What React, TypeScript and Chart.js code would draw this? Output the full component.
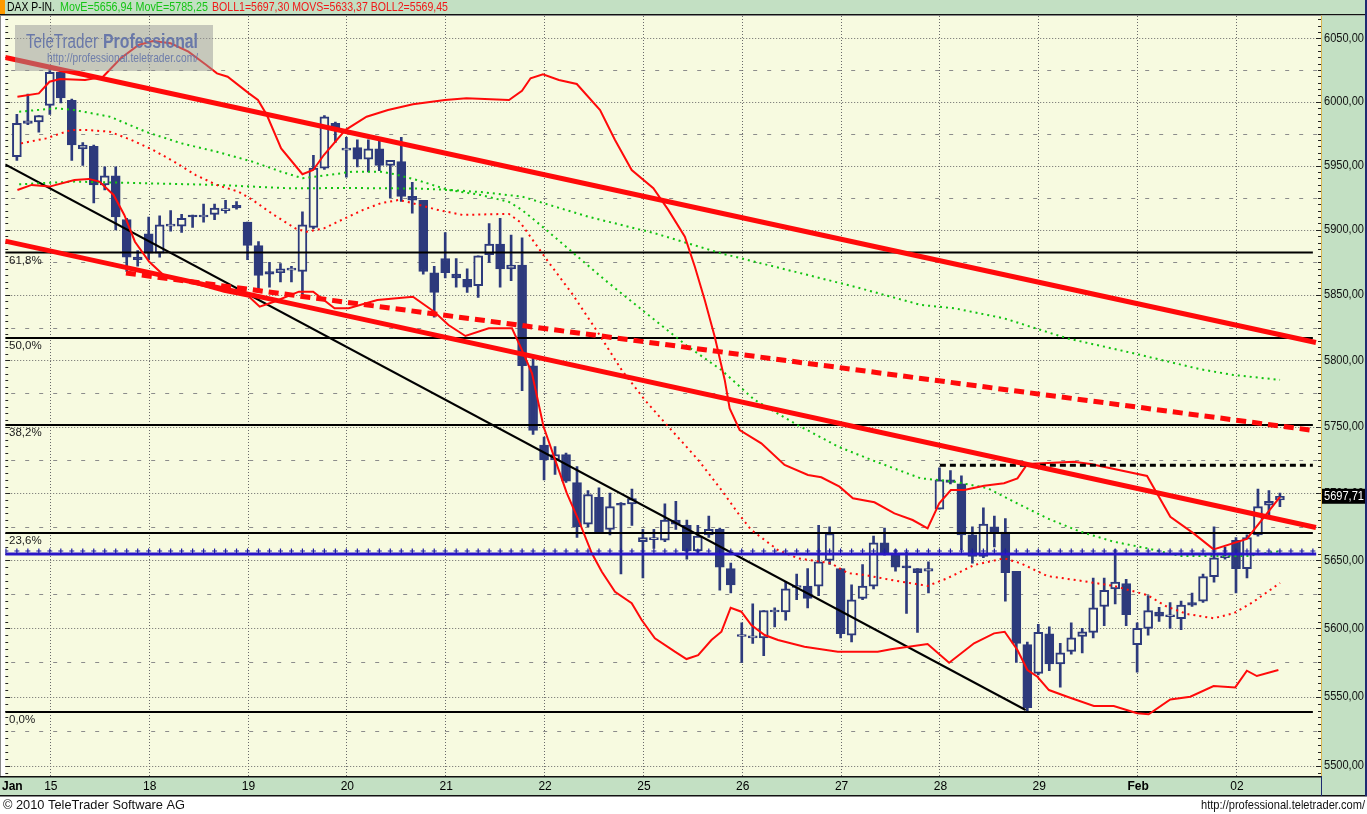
import React, { useEffect, useRef } from 'react';
import { Chart, registerables } from 'chart.js';

Chart.register(...registerables);

// ---------------- data (hourly candles, DAX) ----------------
const OPEN = [
  5957, 5983, 5984, 5997, 6023, 6001, 5963, 5965, 5935, 5942,
  5908, 5879, 5897, 5882, 5903, 5903, 5911, 5910, 5912, 5915,
  5919, 5906, 5888, 5868, 5867, 5869, 5868, 5902, 5948, 5983,
  5962, 5964, 5955, 5963, 5950, 5953, 5926, 5923, 5867, 5878,
  5866, 5862, 5857, 5881, 5889, 5870, 5873, 5796, 5736, 5725,
  5729, 5708, 5677, 5697, 5673, 5692, 5692, 5664, 5665.5, 5665,
  5680, 5676, 5657, 5669, 5673, 5644, 5594, 5593, 5593, 5612,
  5612, 5630, 5631, 5631, 5650, 5644, 5595, 5622, 5631, 5663,
  5655, 5645, 5644, 5642, 5688, 5710, 5707, 5669, 5653, 5675,
  5671, 5642, 5588, 5567, 5596, 5574, 5583, 5594, 5597, 5616,
  5629, 5633, 5588, 5600, 5612, 5608.5, 5607, 5619, 5620, 5638,
  5652, 5665, 5644, 5669, 5691, 5695,
];
const HIGH = [
  5990, 6006, 5989, 6027, 6026, 6002, 5968, 5966, 5949, 5949,
  5909, 5884, 5910, 5911, 5915, 5912, 5911.5, 5920, 5920, 5923,
  5922, 5906, 5891, 5875, 5874, 5872, 5914, 5958, 5989, 5984,
  5972, 5970, 5970, 5969, 5954, 5972, 5937, 5923, 5872, 5898,
  5878, 5870, 5880, 5905, 5909, 5896, 5894, 5802, 5742, 5735,
  5730, 5720, 5702, 5704, 5700, 5693, 5703, 5673, 5673, 5692,
  5694, 5680, 5676, 5683, 5674, 5648, 5604, 5618, 5613, 5615,
  5634, 5640, 5644, 5676, 5675, 5644, 5632, 5647, 5668, 5674,
  5658, 5656, 5644, 5649, 5719, 5717, 5713, 5675, 5689, 5683,
  5681, 5642, 5590, 5603, 5601, 5589, 5604, 5600, 5637, 5637,
  5658, 5636, 5604, 5624, 5615.5, 5619, 5620, 5626, 5640, 5675,
  5660, 5667, 5669, 5703, 5702, 5700,
];
const LOW = [
  5954, 5982, 5976, 5990, 5999, 5954, 5950, 5921, 5931, 5900,
  5868, 5872, 5877, 5879, 5899, 5898, 5902, 5906, 5908, 5913,
  5916, 5877, 5854, 5856, 5860, 5860, 5850, 5901, 5947, 5968,
  5941, 5949, 5945, 5946, 5925, 5922, 5913, 5866, 5833, 5863,
  5856, 5852, 5848, 5875, 5856, 5861, 5777, 5744, 5710, 5714,
  5708, 5667, 5675, 5671, 5669, 5640, 5676, 5637, 5659, 5664,
  5673, 5651, 5655, 5667, 5628, 5626, 5575, 5589, 5580, 5601,
  5606, 5621, 5615, 5624, 5647, 5593, 5590, 5621, 5629, 5654,
  5642, 5611, 5597, 5626, 5688, 5707, 5658, 5648, 5652, 5660,
  5620, 5575, 5540, 5566, 5569, 5557, 5581, 5582, 5593, 5602,
  5618, 5602, 5568, 5595, 5605, 5600, 5599, 5616, 5619, 5634,
  5651, 5626, 5637, 5668, 5683, 5690,
];
const CLOSE = [
  5983, 5985, 5989, 6023, 6003, 5966, 5966, 5935, 5942, 5910,
  5879, 5877, 5882, 5904, 5904, 5909, 5910, 5911, 5917, 5916,
  5917, 5888, 5865, 5866, 5870, 5869.5, 5904, 5948, 5988, 5978,
  5963, 5955, 5963, 5950, 5954, 5926, 5923, 5868, 5852, 5867,
  5863, 5856, 5880, 5889, 5870, 5873, 5796, 5747, 5725, 5729,
  5709, 5675, 5699, 5671, 5690, 5691, 5696, 5667, 5666, 5680,
  5677, 5657, 5668, 5673, 5645, 5632, 5594.5, 5594, 5613, 5612.5,
  5629, 5631, 5622, 5649, 5670, 5596, 5621, 5631, 5663, 5655,
  5645, 5644.5, 5641, 5644, 5710, 5708, 5669, 5653, 5677, 5670,
  5641, 5589, 5542, 5597, 5574, 5582, 5593, 5597.5, 5615, 5628,
  5634, 5610, 5600, 5613, 5609, 5609, 5617, 5617, 5638, 5652,
  5653, 5644, 5667, 5690, 5694, 5697.71,
];

// indicator polylines: [candle index, price]
const BOLL1: number[][] = [
  [0.05, 6003.9], [2.0, 6006.5], [2.97, 6015.7], [3.94, 6017.8], [6.21, 6017.0], [7.84, 6019.6],
  [9.46, 6034.2], [11.08, 6044.7], [12.38, 6047.9], [14.0, 6046.1], [15.62, 6039.4], [17.25, 6028.9],
  [18.22, 6022.3], [19.19, 6019.6], [21.13, 6006.5], [21.95, 6001.3], [22.76, 5989.5], [24.06, 5963.4],
  [26.0, 5943.2], [26.98, 5946.5], [27.95, 5958.2], [29.9, 5977.7], [31.84, 5988.2], [33.79, 5993.4],
  [36.06, 5997.9], [38.98, 6001.3], [40.93, 6002.6], [44.81, 6001.3], [45.99, 6008.6], [46.77, 6018.4],
  [47.9, 6021.5], [49.35, 6017], [50.98, 6013.9], [53.1, 5993.4], [54.46, 5969.9], [55.98, 5946.5],
  [57.95, 5932.3], [59.31, 5915.5], [60.82, 5894.8], [61.73, 5871.6], [62.63, 5846.1], [63.54, 5818.1],
  [64.45, 5785.2], [64.9, 5763.7], [65.81, 5747.4], [67.78, 5737.4], [69.9, 5721.1], [72.03, 5713.6],
  [73.24, 5711.9], [74.9, 5704.9], [76.12, 5696.2], [78.08, 5693.2], [79.9, 5685], [81.56, 5680],
  [82.92, 5673.8], [83.98, 5692.5], [85.04, 5702.4], [86.25, 5702.4], [88.07, 5705.6], [89.88, 5707.4],
  [91.1, 5711.1], [92.01, 5721.9], [96.24, 5723.6], [97.76, 5721.9], [102.9, 5712.9], [105.02, 5682.4],
  [107.14, 5670.1], [108.96, 5658.2], [111.99, 5666], [115.01, 5697.3],
];
const BOLL2: number[][] = [
  [0.05, 5931], [1.35, 5934.9], [2.97, 5933.6], [5.24, 5938.8], [6.54, 5939.6], [7.51, 5937.5],
  [8.81, 5927.1], [9.78, 5911.6], [10.75, 5890.9], [12.05, 5875.5], [13.35, 5865.3], [15.62, 5860.1],
  [18.86, 5852.5], [21.14, 5848.6], [22.11, 5841], [23.41, 5844.8], [25.68, 5852.5], [26.98, 5852.5],
  [28.92, 5839.8], [30.22, 5839.8], [32.82, 5846.1], [36.06, 5848.6], [38.0, 5837.1], [39.3, 5827],
  [40.84, 5818.6], [42.96, 5824.5], [45.08, 5824.5], [45.99, 5807.9], [46.9, 5790.2], [47.95, 5750],
  [49.01, 5725], [50.07, 5700], [51.14, 5680], [52.35, 5655.3], [53.26, 5641.7], [54.46, 5626.9],
  [55.98, 5618.4], [56.89, 5606.1], [58.09, 5592.7], [59.91, 5582.9], [60.97, 5577.5], [62.03, 5580.4],
  [63.24, 5591.4], [64.15, 5597.5], [64.99, 5615.1], [65.96, 5612.2], [66.87, 5602.4], [68.08, 5595.1],
  [69.3, 5591.4], [71.71, 5586.5], [74.75, 5582.9], [78.38, 5582.9], [79.59, 5584.6], [82.92, 5588.5],
  [84.88, 5574.8], [87.15, 5589], [88.97, 5596.3], [89.94, 5597.5], [91.1, 5584.1], [92.01, 5569.5],
  [92.92, 5564.6], [93.97, 5554.9], [95.64, 5550], [98.06, 5543.3], [99.87, 5543.3], [102, 5538],
  [103.05, 5537.3], [105.02, 5548.1], [106.84, 5550], [108.96, 5557.8], [110.93, 5556.8], [111.99, 5569],
  [112.9, 5565.1], [114.86, 5569.45],
];
const MOVS: number[][] = [
  [0.38, 5967.3], [2.65, 5971.2], [4.92, 5977.7], [6.54, 5977.7], [8.47, 5976.4], [10.44, 5969.9],
  [12.38, 5962.2], [14.32, 5953], [16.28, 5942.6], [18.22, 5934.8], [20.16, 5929.7], [21.46, 5923.2],
  [23.41, 5911.6], [25.36, 5901.2], [26.33, 5898.6], [27.95, 5901.2], [29.9, 5909.1], [31.52, 5915.5],
  [33.14, 5920.7], [34.76, 5923.2], [35.72, 5921.4], [38.33, 5915.5], [40.6, 5911.6], [42.87, 5912.1],
  [44.8, 5912.4], [45.79, 5906.3], [47.08, 5890.9], [48.38, 5875.5], [50.53, 5851.2], [52.95, 5820.7],
  [55.07, 5792.7], [57.18, 5770], [59.31, 5750], [62.03, 5725], [64.15, 5702.4], [65.67, 5685],
  [66.87, 5672.6], [69.3, 5657.7], [71.11, 5651.6], [74.14, 5647.9], [75.66, 5640.6], [77.17, 5639.3],
  [79.59, 5635.6], [82.92, 5631.2], [84.74, 5636.9], [87.15, 5646.6], [89.88, 5651.6], [91.4, 5647.9],
  [93.82, 5638.5], [96.85, 5635], [99.87, 5631.2], [102.9, 5624.5], [104.72, 5615.9], [106.54, 5610.5],
  [108.96, 5607.4], [110.77, 5611], [112.59, 5619.5], [115.01, 5633.37],
];
const MOVE_FAST: number[][] = [
  [0.21, 5992.1], [3.62, 5994.8], [5.24, 5993.4], [8.47, 5988.2], [11.73, 5976.4], [14.98, 5967.3],
  [18.22, 5960.7], [21.46, 5953], [24.06, 5945.2], [26.0, 5940.1], [27.95, 5942.1], [30.55, 5945.2],
  [33.14, 5945.2], [34.44, 5943.2], [36.39, 5938.8], [39.3, 5931], [42.23, 5927.1], [44.8, 5921.7],
  [45.99, 5915.5], [47.9, 5902.2], [50.53, 5883.2], [53.55, 5861.4], [57.18, 5836.8], [61.13, 5810.4],
  [64.15, 5792.7], [67.18, 5770], [70.81, 5752.4], [74.75, 5735], [77.77, 5725], [82.3, 5711.1],
  [85.33, 5708.7], [88.4, 5703.7], [90.79, 5693.6], [93.82, 5681.3], [96.85, 5671.3], [99.87, 5663.9],
  [102.9, 5659], [105.93, 5653.3], [108.93, 5653.3], [111.99, 5653.3], [115.01, 5656.94],
];
const MOVE_SLOW: number[][] = [
  [0.21, 5935.4], [5.24, 5937.5], [11.73, 5936.2], [18.22, 5934.9], [24.7, 5932.3], [30.55, 5932.5],
  [36.39, 5932.1], [39.3, 5931], [42.23, 5929.4], [45.99, 5925.8], [52.04, 5910.2], [58.09, 5897.4],
  [64.15, 5881.9], [70.21, 5869.1], [76.26, 5856.3], [82.32, 5842.3], [85.34, 5839.8], [89.88, 5832.1],
  [95.64, 5816.8], [101.69, 5805.4], [107.75, 5793.3], [110.77, 5789], [115.01, 5785.25],
];

// hand-drawn trend lines: [candle index, price]
const TREND_UPPER: number[][] = [[-1.06, 6034.8], [118.28, 5813.6]];
const TREND_LOWER: number[][] = [[-1.06, 5891.4], [118.28, 5674.4]];
const TREND_DASHED: number[][] = [[9.93, 5866.8], [117.74, 5747.4]];
const TREND_BLACK: number[][] = [[-1.06, 5950.8], [91.85, 5540.4]];

const FIB_LEVELS = [5882.6, 5817.1, 5751.2, 5670.3, 5538.9];
const FIB_LABELS = ['61,8%', '50,0%', '38,2%', '23,6%', '0,0%'];
const FIB_SPAN = [-1.06, 118.0];
const BLUE_LEVEL = 5654.8;
const BLUE_MARK_LEVEL = 5657;
const BLUE_SPAN = [-1.06, 118.3];
const HIGH_LEVEL = 5721;
const HIGH_SPAN = [84.04, 118.0];

const DAY_START_IDX = [3, 12, 21, 30, 39, 48, 57, 66, 75, 84, 93, 102, 111];
const DAY_LABELS = ['15', '18', '19', '20', '21', '22', '25', '26', '27', '28', '29', 'Feb', '02'];
const MONTH_LABEL = 'Jan';
const Y_TICKS = [5500, 5550, 5600, 5650, 5700, 5750, 5800, 5850, 5900, 5950, 6000, 6050];
const Y_MINOR = [5525, 5575, 5625, 5675, 5725, 5775, 5825, 5875, 5925, 5975, 6025];

const HEADER_TEXTS = ['DAX P-IN.', 'MovE=5656,94 MovE=5785,25', 'BOLL1=5697,30 MOVS=5633,37 BOLL2=5569,45'];

const Y_MIN = 5492.7;
const Y_MAX = 6067.7;
const X_MIN = -1.063;
const X_MAX = 118.74;

// ---------------- styles ----------------
const NAVY = '#2d3a7c';
const PLOT_BG = '#f7fae0';
const PANEL = '#c3e0c3';
const RED = '#ff0a0a';
const GREEN_DOT = '#12c312';
const FONT = '"Liberation Sans", Arial, sans-serif';

export default function App() {
  const ref = useRef<HTMLCanvasElement | null>(null);

  useEffect(() => {
    document.body.style.margin = '0';
    const canvas = ref.current;
    if (!canvas) return;

    const pts = (arr: number[][]) => arr.map(([x, y]) => ({ x, y }));
    const line = (label: string, arr: number[][], color: string, width: number, dash: number[], order: number, extra: any = {}) => ({
      type: 'line',
      label,
      data: pts(arr),
      borderColor: color,
      backgroundColor: color,
      borderWidth: width,
      borderDash: dash,
      pointRadius: 0,
      pointHoverRadius: 0,
      fill: false,
      tension: 0,
      order,
      ...extra,
    });
    const hline = (v: number, span: number[]) => [[span[0], v], [span[1], v]];

    const idx = OPEN.map((_, i) => i);
    const datasets: any[] = [
      {
        type: 'bar', label: 'wick',
        data: idx.map((i) => ({ x: i, y: [LOW[i], HIGH[i]] })),
        backgroundColor: NAVY, borderWidth: 0, barThickness: 2, grouped: false, order: 21,
      },
      {
        type: 'bar', label: 'body',
        data: idx.map((i) => ({ x: i, y: [Math.min(OPEN[i], CLOSE[i]), Math.max(OPEN[i], CLOSE[i])] })),
        backgroundColor: idx.map((i) => (CLOSE[i] >= OPEN[i] ? PLOT_BG : NAVY)),
        borderColor: NAVY, borderWidth: 2, borderSkipped: false, barThickness: 9, minBarLength: 2,
        grouped: false, order: 20,
      },
      ...FIB_LEVELS.map((v, i) => line('fib' + i, hline(v, FIB_SPAN), '#000000', 2, [], 12)),
      line('black trend', TREND_BLACK, '#000000', 2, [], 11),
      line('MovE fast', MOVE_FAST, GREEN_DOT, 2, [2, 4], 10),
      line('MovE slow', MOVE_SLOW, GREEN_DOT, 2, [2, 4], 10),
      line('MOVS', MOVS, RED, 2, [2, 4], 9),
      line('BOLL1', BOLL1, RED, 2, [], 8),
      line('BOLL2', BOLL2, RED, 2, [], 8),
      line('blue', hline(BLUE_LEVEL, BLUE_SPAN), '#2a16c8', 3, [], 7),
      {
        type: 'line', label: 'blue marks',
        data: [-1, ...idx, 116, 117, 118].map((i) => ({ x: i, y: BLUE_MARK_LEVEL })),
        showLine: false, pointStyle: 'cross', pointRadius: 2.5, pointBorderWidth: 1.2,
        pointBorderColor: '#1c1aa8', pointBackgroundColor: '#1c1aa8', order: 6,
      },
      line('high dashed', hline(HIGH_LEVEL, HIGH_SPAN), '#000000', 3, [6, 4], 6),
      line('trend upper', TREND_UPPER, RED, 5, [], 5),
      line('trend lower', TREND_LOWER, RED, 5, [], 5),
      line('trend dashed', TREND_DASHED, RED, 5, [10, 6], 5),
    ];

    const bgPlugin = {
      id: 'bgPlugin',
      beforeDraw(chart: any) {
        const { ctx, chartArea: a, width } = chart;
        ctx.save();
        ctx.fillStyle = '#ffffff';
        ctx.fillRect(0, 0, width, chart.height);
        // header band
        ctx.fillStyle = PANEL;
        ctx.fillRect(0, 0, width, 14);
        ctx.fillStyle = '#ff9a00';
        ctx.fillRect(0, 0, 5, 14);
        ctx.fillStyle = '#111';
        ctx.fillRect(0, 14, width, 1.5);
        // plot
        ctx.fillStyle = PLOT_BG;
        ctx.fillRect(a.left, a.top, a.right - a.left, a.bottom - a.top);
        ctx.fillStyle = '#8a8a8a';
        ctx.fillRect(0, a.top, 1, a.bottom - a.top);
        // x band
        ctx.fillStyle = PANEL;
        ctx.fillRect(0, a.bottom, width, 796 - a.bottom);
        // right panel
        ctx.fillRect(a.right, 15.5, width - a.right, 796 - 15.5);
        ctx.fillStyle = '#111';
        ctx.fillRect(0, a.bottom, a.right, 1.5);
        ctx.fillRect(0, 795, width, 1.5);
        ctx.fillStyle = '#d8b450';
        ctx.fillRect(a.right, 15.5, 1, a.bottom - 15.5);
        ctx.fillStyle = '#1e2a70';
        ctx.fillRect(a.right, a.bottom, 1, 796 - a.bottom);
        ctx.fillRect(width - 2, 0, 2, 796);
        ctx.restore();
      },
      beforeDatasetsDraw(chart: any) {
        const { ctx, chartArea: a, scales } = chart;
        const xs = scales.x;
        const ys = scales.y;
        ctx.save();
        ctx.beginPath();
        ctx.rect(a.left, a.top, a.right - a.left, a.bottom - a.top);
        ctx.clip();
        ctx.lineWidth = 1;
        Y_TICKS.forEach((v) => {
          const py = Math.round(ys.getPixelForValue(v)) + 0.5;
          ctx.strokeStyle = '#6a6a6a';
          ctx.setLineDash([1, 2]);
          ctx.beginPath(); ctx.moveTo(a.left, py); ctx.lineTo(a.right, py); ctx.stroke();
        });
        Y_MINOR.forEach((v) => {
          const py = Math.round(ys.getPixelForValue(v)) + 0.5;
          ctx.strokeStyle = '#8c8c8c';
          ctx.setLineDash([4, 10]);
          ctx.beginPath(); ctx.moveTo(a.left + 6, py); ctx.lineTo(a.right, py); ctx.stroke();
        });
        DAY_START_IDX.forEach((d) => {
          const px = Math.round(xs.getPixelForValue(d)) + 0.5;
          ctx.strokeStyle = '#6a6a6a';
          ctx.setLineDash([1, 2]);
          ctx.beginPath(); ctx.moveTo(px, a.top); ctx.lineTo(px, a.bottom); ctx.stroke();
        });
        // small tick marks along both plot edges, every 5 points
        ctx.setLineDash([]);
        ctx.strokeStyle = '#222';
        for (let v = 5495; v <= 6065; v += 5) {
          const py = Math.round(ys.getPixelForValue(v)) + 0.5;
          const len = v % 50 === 0 ? 5 : 3;
          ctx.beginPath(); ctx.moveTo(a.right - len, py); ctx.lineTo(a.right, py); ctx.stroke();
          ctx.beginPath(); ctx.moveTo(a.left, py); ctx.lineTo(a.left + len, py); ctx.stroke();
        }
        ctx.restore();
      },
      afterDraw(chart: any) {
        const { ctx, chartArea: a, scales, width } = chart;
        const xs = scales.x;
        const ys = scales.y;
        ctx.save();
        // fib labels
        ctx.textBaseline = 'middle';
        ctx.textAlign = 'left';
        ctx.font = `11.5px ${FONT}`;
        ctx.fillStyle = '#1a1a1a';
        FIB_LEVELS.forEach((v, i) => ctx.fillText(FIB_LABELS[i], 9, ys.getPixelForValue(v) + 8));

        // watermark
        ctx.fillStyle = 'rgba(150,150,150,0.5)';
        ctx.fillRect(15, 25, 198, 46);
        ctx.textBaseline = 'alphabetic';
        ctx.fillStyle = 'rgba(100,116,168,0.95)';
        ctx.font = `20px ${FONT}`;
        ctx.fillText('TeleTrader', 26, 48, 72);
        ctx.font = `bold 20px ${FONT}`;
        ctx.fillText('Professional', 103, 48, 95);
        ctx.font = `13px ${FONT}`;
        ctx.fillStyle = 'rgba(100,116,168,0.9)';
        ctx.fillText('http://professional.teletrader.com/', 47, 62, 151);

        // header
        ctx.textBaseline = 'middle';
        ctx.font = `13px ${FONT}`;
        ctx.fillStyle = '#000';
        ctx.fillText(HEADER_TEXTS[0], 7, 7.5, 48);
        ctx.fillStyle = '#16c416';
        ctx.fillText(HEADER_TEXTS[1], 60, 7.5, 148);
        ctx.fillStyle = '#f01818';
        ctx.fillText(HEADER_TEXTS[2], 212, 7.5, 236);

        // y labels
        ctx.font = `12px ${FONT}`;
        ctx.fillStyle = '#111';
        Y_TICKS.forEach((v) => {
          ctx.fillText(v.toFixed(2).replace('.', ','), a.right + 3, ys.getPixelForValue(v), 40);
        });
        // last price tag
        const last = CLOSE[CLOSE.length - 1];
        const ly = ys.getPixelForValue(last);
        ctx.fillStyle = '#000';
        ctx.fillRect(a.right + 1, ly - 7.5, 43, 15);
        ctx.fillStyle = '#fff';
        ctx.fillText(last.toFixed(2).replace('.', ','), a.right + 3, ly + 0.5, 40);

        // x labels
        ctx.textAlign = 'center';
        ctx.fillStyle = '#000';
        DAY_START_IDX.forEach((d, i) => {
          const lab = DAY_LABELS[i];
          ctx.font = lab === 'Feb' ? `bold 12px ${FONT}` : `12px ${FONT}`;
          ctx.fillText(lab, xs.getPixelForValue(d) + 1, 787);
        });
        ctx.textAlign = 'left';
        ctx.font = `bold 12px ${FONT}`;
        ctx.fillText(MONTH_LABEL, 2, 787);

        // footer
        ctx.font = `13px ${FONT}`;
        ctx.fillStyle = '#111';
        ctx.fillText('\u00a9 2010 TeleTrader Software AG', 3, 805, 182);
        ctx.textAlign = 'right';
        ctx.fillText('http://professional.teletrader.com/', width - 2, 805, 164);
        ctx.restore();
      },
    };

    const chart = new Chart(canvas, {
      type: 'bar',
      data: { datasets },
      options: {
        responsive: false,
        animation: false,
        events: [],
        layout: { padding: { top: 16, left: 2, right: 0, bottom: 18 } },
        plugins: { legend: { display: false }, tooltip: { enabled: false } },
        scales: {
          x: {
            type: 'linear', min: X_MIN, max: X_MAX, offset: false, position: 'bottom',
            grid: { display: false }, border: { display: false }, ticks: { display: false },
            afterFit: (s: any) => { s.height = 20; },
          },
          y: {
            type: 'logarithmic', position: 'right', min: Y_MIN, max: Y_MAX,
            grid: { display: false }, border: { display: false }, ticks: { display: false },
            afterFit: (s: any) => { s.width = 46; },
          },
        },
      } as any,
      plugins: [bgPlugin],
    } as any);

    return () => chart.destroy();
  }, []);

  return (
    <div style={{ width: 1367, height: 814, position: 'relative' }}>
      <canvas ref={ref} width={1367} height={814} style={{ display: 'block', width: 1367, height: 814 }} />
    </div>
  );
}
